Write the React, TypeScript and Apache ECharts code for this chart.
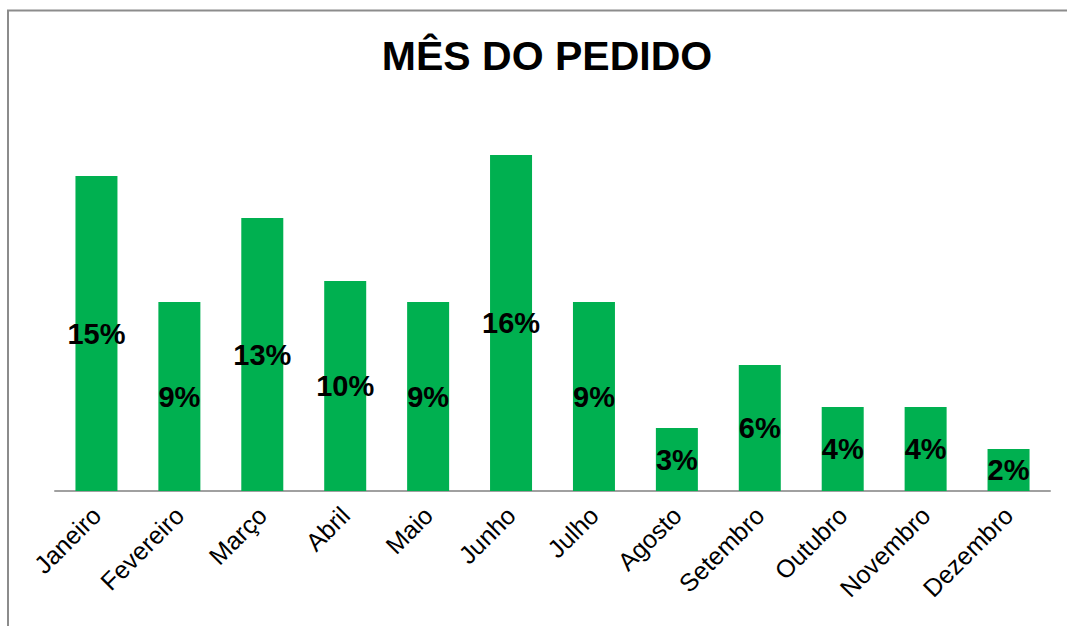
import React, { useEffect, useRef } from "react";
import * as echarts from "echarts";

const titleText = "MÊS DO PEDIDO";
const months = [
  "Janeiro", "Fevereiro", "Março", "Abril", "Maio", "Junho",
  "Julho", "Agosto", "Setembro", "Outubro", "Novembro", "Dezembro",
];
const percents = [15, 9, 13, 10, 9, 16, 9, 3, 6, 4, 4, 2];

const FONT = "Arial, 'Liberation Sans', sans-serif";

export default function App() {
  const ref = useRef<HTMLDivElement>(null);
  useEffect(() => {
    if (!ref.current) return;
    const chart = echarts.init(ref.current, undefined, { renderer: "svg" });
    chart.setOption({
      animation: false,
      backgroundColor: "#ffffff",
      title: {
        text: titleText,
        left: 542,
        textAlign: "center",
        top: 30,
        textStyle: { fontFamily: FONT, fontWeight: "bold", fontSize: 41, color: "#000" },
      },
      graphic: [
        {
          type: "rect",
          shape: { x: 8, y: 10.5, width: 1200, height: 800 },
          style: { fill: "none", stroke: "#8c8c8c", lineWidth: 2 },
          silent: true,
        },
      ],
      grid: { left: 55, right: 17, top: 71, bottom: 135, containLabel: false },
      xAxis: {
        type: "category",
        data: months,
        axisLine: { show: true, lineStyle: { color: "#a0a0a0", width: 2 } },
        axisTick: { show: false },
        axisLabel: {
          rotate: 45,
          interval: 0,
          margin: 20,
          fontFamily: FONT,
          fontSize: 25,
          color: "#000",
        },
      },
      yAxis: {
        type: "value",
        min: 0,
        max: 20,
        show: false,
        splitLine: { show: false },
      },
      series: [
        {
          type: "bar",
          data: percents,
          barWidth: 42,
          itemStyle: { color: "#00B050" },
          label: {
            show: true,
            position: "inside",
            formatter: "{c}%",
            fontFamily: FONT,
            fontWeight: "bold",
            fontSize: 29,
            color: "#000",
          },
        },
      ],
    });
    return () => chart.dispose();
  }, []);
  return (
    <div
      ref={ref}
      style={{ position: "absolute", left: 0, top: 0, width: 1067, height: 626 }}
    />
  );
}
